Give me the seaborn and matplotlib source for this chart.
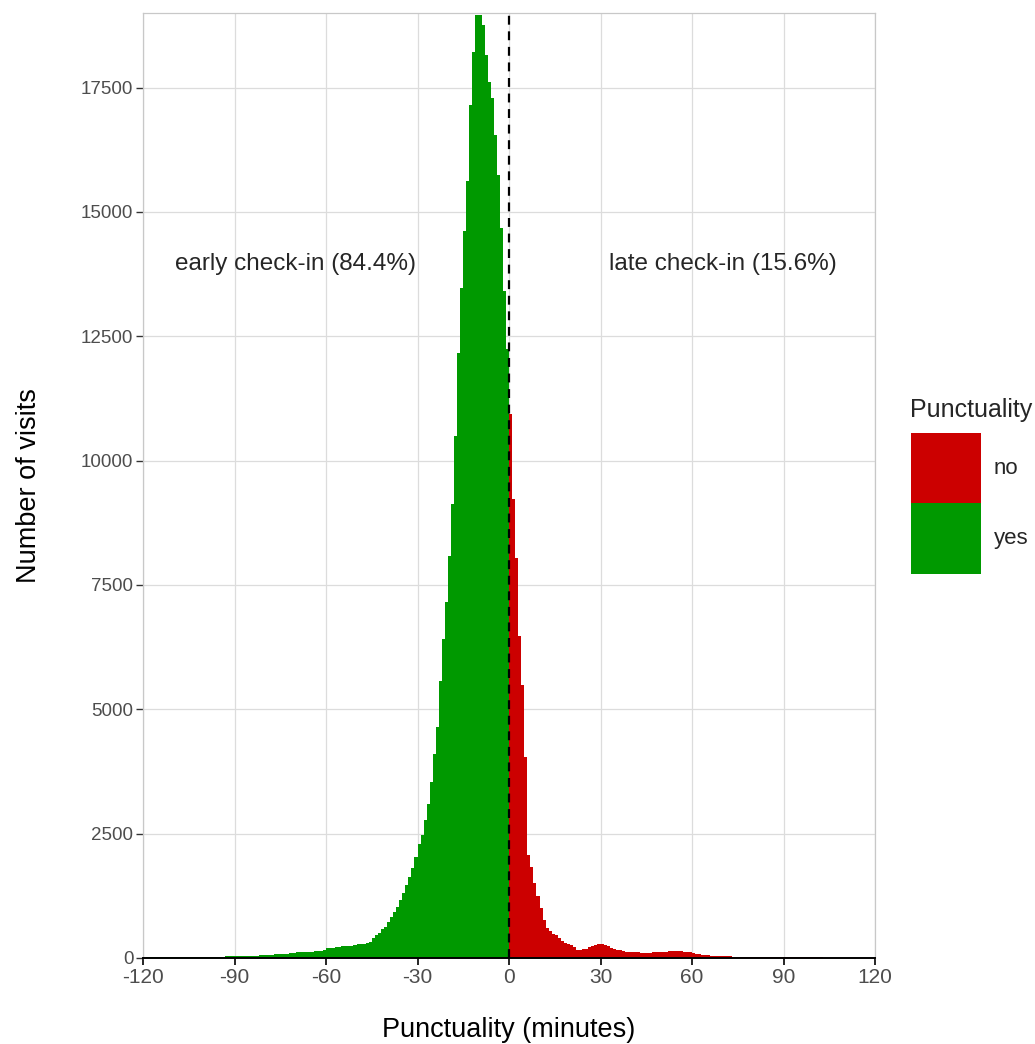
import numpy as np
import pandas as pd
import matplotlib
matplotlib.use("Agg")
import matplotlib.pyplot as plt
from matplotlib.patches import Patch
import seaborn as sns

# visits per 1-minute bin
early_minutes = list(range(-120, 0))
early_counts = [
    10, 12, 12, 13, 14, 14, 15, 16, 16, 17,
    18, 18, 19, 20, 20, 21, 22, 22, 23, 24,
    25, 25, 26, 27, 28, 28, 30, 31, 32, 34,
    36, 38, 40, 42, 44, 46, 48, 50, 53, 56,
    60, 63, 67, 72, 76, 80, 85, 90, 95, 105,
    112, 115, 118, 122, 125, 128, 132, 138, 145, 160,
    200, 205, 210, 215, 225, 235, 240, 245, 250, 255,
    275, 285, 290, 300, 330, 395, 460, 510, 576, 630,
    720, 829, 930, 1030, 1164, 1310, 1465, 1632, 1800, 2033,
    2302, 2468, 2769, 3104, 3538, 4108, 4642, 5579, 6416, 7150,
    8088, 9125, 10496, 12168, 13473, 14610, 15613, 17152, 18222, 18950,
    18950, 18757, 18155, 17620, 17285, 16550, 15748, 14676, 13406, 12236,
]
late_minutes = list(range(0, 120))
late_counts = [
    10930, 9237, 8041, 6482, 5479, 4040, 2067, 1832, 1500, 1250,
    1000, 760, 600, 540, 490, 460, 410, 350, 310, 280,
    270, 230, 170, 160, 175, 185, 215, 240, 260, 275,
    280, 265, 240, 210, 190, 165, 155, 135, 125, 120,
    120, 118, 115, 100, 95, 100, 110, 120, 125, 128,
    130, 130, 133, 138, 140, 142, 138, 130, 125, 115,
    100, 90, 80, 68, 60, 55, 48, 44, 40, 38,
    36, 34, 32, 30, 29, 28, 27, 26, 25, 25,
    24, 23, 22, 21, 20, 20, 19, 18, 17, 17,
    16, 15, 15, 14, 14, 13, 13, 12, 12, 12,
    11, 11, 11, 10, 10, 10, 10, 9, 9, 9,
    9, 8, 8, 8, 8, 7, 7, 7, 6, 6,
]
labels = ["no", "yes"]
colors = {"no": "#CC0000", "yes": "#009900"}
early_text = "early check-in (84.4%)"
late_text = "late check-in (15.6%)"

df = pd.DataFrame({
    "minute": np.array(early_minutes + late_minutes) + 0.5,
    "count": early_counts + late_counts,
    "Punctuality": ["yes"] * len(early_minutes) + ["no"] * len(late_minutes),
})

sns.set_theme(style="whitegrid")
plt.rcParams["font.family"] = ["Liberation Sans", "DejaVu Sans"]
plt.rcParams["axes.unicode_minus"] = False

fig = plt.figure(figsize=(10.35, 10.44), dpi=100)
ax = fig.add_axes([143 / 1035, 1 - 958 / 1044, 732 / 1035, 945 / 1044])

sns.histplot(data=df, x="minute", weights="count", hue="Punctuality",
             hue_order=labels, palette=colors, binwidth=1, binrange=(-120, 120),
             multiple="layer", alpha=1, linewidth=0, legend=False, ax=ax)

ax.axvline(0, color="black", linestyle=(0, (4, 3)), linewidth=1.6)
ax.text(-70, 13950, early_text, ha="center", va="center", fontsize=17.5)
ax.text(70, 13950, late_text, ha="center", va="center", fontsize=17.5)

ax.set_xlim(-120, 120)
ax.set_ylim(0, 19000)
ax.set_xticks(range(-120, 121, 30))
ax.set_yticks(range(0, 17501, 2500))
ax.grid(True, color="#DCDCDC", linewidth=0.9)
ax.set_axisbelow(True)
for s in ["top", "right", "left"]:
    ax.spines[s].set_color("#C8C8C8")
    ax.spines[s].set_linewidth(0.9)
ax.spines["bottom"].set_color("black")
ax.spines["bottom"].set_linewidth(1.4)
ax.tick_params(axis="x", colors="#4D4D4D", labelsize=15, length=5, width=1.2,
               color="black", bottom=True, pad=2)
ax.tick_params(axis="y", colors="#4D4D4D", labelsize=13.5, length=5, width=1.0,
               color="#333333", left=True, pad=2)

ax.set_xlabel("Punctuality (minutes)", fontsize=19.5, color="black", va="center")
ax.set_ylabel("Number of visits", fontsize=19.5, color="black", va="center")
ax.xaxis.set_label_coords(0.5, -0.0765)
ax.yaxis.set_label_coords(-0.156, 0.5)

# legend: title placed on its own so the gap to the keys matches
fig.text(910 / 1035, 1 - 410 / 1044, "Punctuality", fontsize=18,
         ha="left", va="center")
handles = [Patch(facecolor=colors[l], edgecolor="none") for l in labels]
fig.legend(handles, labels, loc="upper left",
           bbox_to_anchor=(0.872, 1 - 424 / 1044), frameon=False, fontsize=16,
           handlelength=3.15, handleheight=4.5,
           labelspacing=0.0, handletextpad=0.55, borderaxespad=0)

fig.savefig("out.png", dpi=100)
